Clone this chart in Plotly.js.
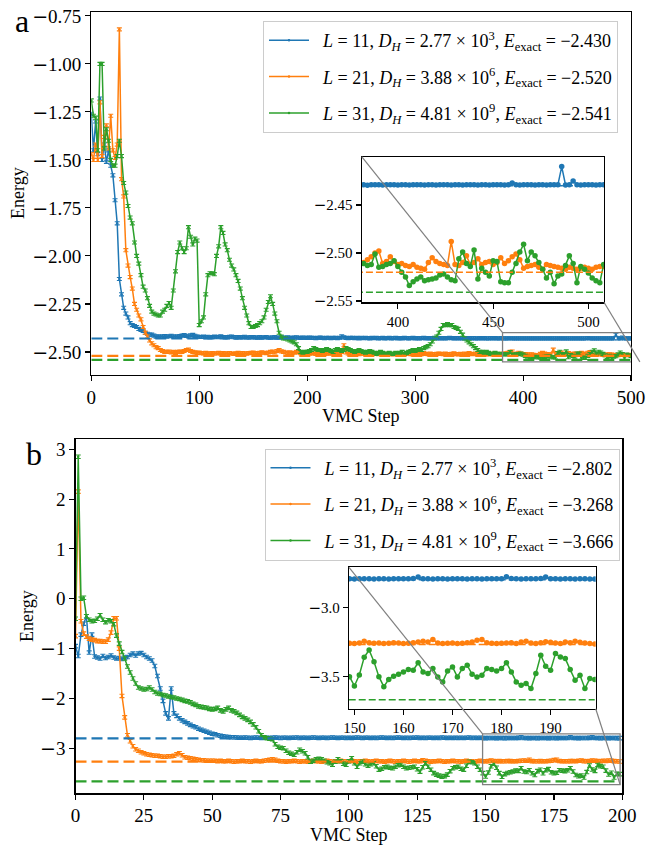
<!DOCTYPE html>
<html>
<head>
<meta charset="utf-8">
<script src="https://cdn.plot.ly/plotly-3.0.1.min.js"></script>
<style>html,body{margin:0;padding:0;background:#fff;}#plot{width:657px;height:846px;}</style>
</head>
<body>
<div id="plot"></div>
<script>
// ---------------- DATA ----------------
// Panel a: energies recorded every 2 VMC steps (0..508)
const aL11 = [-1.26,-1.45,-1.30,-1.47,-1.18,-1.50,-1.42,-1.51,-1.45,-1.53,-1.58,-1.71,-1.83,-2.12,-2.20,-2.27,-2.30,-2.32,-2.35,-2.36,-2.365,-2.37,-2.38,-2.385,-2.39,-2.40,-2.405,-2.41,-2.41,-2.415,-2.42,
-2.418,-2.421,-2.419,-2.417,-2.420,-2.418,-2.416,-2.419,-2.421,-2.418,
-2.417,-2.415,-2.412,-2.416,-2.419,-2.414,-2.411,-2.416,-2.420,-2.421,
-2.422,-2.420,-2.423,-2.421,-2.424,-2.422,-2.420,-2.423,-2.421,-2.419,
-2.422,-2.424,-2.423,-2.421,-2.420,-2.423,-2.425,-2.422,-2.424,-2.423,
-2.421,-2.424,-2.425,-2.423,-2.422,-2.424,-2.426,-2.423,-2.425,-2.424,
-2.422,-2.425,-2.426,-2.424,-2.423,-2.425,-2.426,-2.424,-2.425,-2.426,
-2.424,-2.426,-2.427,-2.425,-2.424,-2.426,-2.427,-2.425,-2.426,-2.427,
-2.425,-2.427,-2.426,-2.428,-2.426,-2.425,-2.427,-2.428,-2.426,-2.427,
-2.428,-2.426,-2.427,-2.428,-2.426,-2.419,-2.424,-2.427,-2.428,-2.427,
-2.426,-2.428,-2.427,-2.429,-2.427,-2.428,-2.426,-2.428,-2.429,-2.427,
-2.428,-2.427,-2.429,-2.428,-2.427,-2.429,-2.428,-2.427,-2.429,-2.428,
-2.427,-2.429,-2.428,-2.429,-2.427,-2.428,-2.429,-2.428,-2.427,-2.429,
-2.428,-2.429,-2.428,-2.427,-2.429,-2.428,-2.429,-2.428,-2.427,-2.429,
-2.428,-2.429,-2.428,-2.429,-2.428,-2.426,-2.428,-2.429,-2.428,-2.429,
-2.428,-2.429,-2.428,-2.429,-2.428,-2.429,-2.428,-2.429,-2.429,-2.428,
-2.429,-2.428,-2.429,-2.429,-2.428,-2.429,-2.428,-2.429,-2.429,-2.428,
-2.429,-2.4295,-2.429,-2.4288,-2.429,-2.4292,-2.429,-2.4289,-2.429,-2.4291,
-2.429,-2.429,-2.4292,-2.429,-2.4289,-2.429,-2.4291,-2.429,-2.429,-2.4292,
-2.429,-2.4289,-2.429,-2.4291,-2.429,-2.429,-2.4292,-2.429,-2.4289,-2.429,
-2.4291,-2.429,-2.429,-2.4292,-2.429,-2.4289,-2.429,-2.4291,-2.429,-2.4272,
-2.429,-2.4291,-2.429,-2.4289,-2.429,-2.4292,-2.429,-2.429,-2.4291,-2.429,
-2.4289,-2.429,-2.410,-2.4291,-2.429,-2.425,-2.429,-2.4292,-2.429,-2.4289,
-2.429,-2.4291,-2.429,-2.429];

const aL21 = [-1.47,-1.50,-1.42,-1.50,-1.20,-1.48,-1.38,-1.32,-1.44,-1.27,-1.45,-1.49,-1.42,-0.82,-1.60,-1.69,-1.97,-2.05,-2.11,-2.17,-2.25,-2.28,-2.31,-2.33,-2.37,-2.40,-2.42,-2.44,-2.455,-2.465,-2.475,
-2.48,-2.49,-2.495,-2.50,-2.50,-2.498,-2.502,-2.50,-2.505,-2.50,
-2.498,-2.50,-2.495,-2.49,-2.488,-2.495,-2.50,-2.502,-2.505,-2.503,
-2.506,-2.508,-2.505,-2.507,-2.509,-2.506,-2.508,-2.507,-2.505,-2.508,
-2.506,-2.509,-2.507,-2.506,-2.508,-2.510,-2.507,-2.505,-2.508,-2.506,
-2.507,-2.509,-2.506,-2.505,-2.503,-2.506,-2.508,-2.505,-2.502,-2.504,
-2.506,-2.503,-2.500,-2.498,-2.502,-2.495,-2.490,-2.497,-2.500,-2.503,
-2.505,-2.502,-2.506,-2.504,-2.500,-2.503,-2.506,-2.508,-2.505,-2.507,
-2.509,-2.506,-2.508,-2.510,-2.507,-2.505,-2.508,-2.510,-2.507,-2.509,
-2.506,-2.508,-2.510,-2.507,-2.505,-2.500,-2.465,-2.503,-2.508,-2.510,
-2.509,-2.507,-2.510,-2.512,-2.509,-2.507,-2.510,-2.512,-2.509,-2.511,
-2.508,-2.510,-2.512,-2.509,-2.511,-2.513,-2.510,-2.508,-2.511,-2.513,
-2.510,-2.512,-2.509,-2.511,-2.513,-2.510,-2.508,-2.511,-2.513,-2.510,
-2.512,-2.509,-2.511,-2.506,-2.510,-2.512,-2.509,-2.511,-2.513,-2.510,
-2.508,-2.510,-2.512,-2.509,-2.511,-2.513,-2.510,-2.507,-2.511,-2.513,
-2.510,-2.512,-2.509,-2.511,-2.506,-2.510,-2.512,-2.509,-2.511,-2.513,
-2.510,-2.508,-2.511,-2.513,-2.510,-2.512,-2.509,-2.511,-2.513,-2.510,
-2.510,-2.507,-2.504,-2.500,-2.498,-2.511,-2.509,-2.504,-2.509,-2.512,
-2.511,-2.513,-2.514,-2.512,-2.515,-2.516,-2.517,-2.510,-2.505,-2.509,
-2.511,-2.512,-2.513,-2.488,-2.512,-2.513,-2.510,-2.503,-2.512,-2.510,
-2.506,-2.512,-2.510,-2.509,-2.512,-2.510,-2.505,-2.511,-2.508,-2.504,
-2.501,-2.507,-2.516,-2.514,-2.513,-2.512,-2.515,-2.517,-2.512,-2.513,
-2.514,-2.515,-2.516,-2.517,-2.515,-2.516,-2.517,-2.516,-2.515,-2.516,
-2.517,-2.515,-2.514,-2.514];

const aL31 = [-1.19,-1.27,-1.28,-1.45,-1.00,-1.00,-1.44,-1.34,-1.40,-1.50,-1.53,-1.53,-1.48,-1.40,-1.48,-1.62,-1.67,-1.74,-1.80,-1.83,-1.93,-2.00,-2.04,-2.10,-2.16,-2.18,-2.22,-2.26,-2.29,-2.30,-2.305,
-2.31,-2.31,-2.29,-2.28,-2.26,-2.245,-2.27,-2.18,-2.08,-1.98,
-1.93,-1.96,-1.98,-1.96,-1.85,-1.90,-1.94,-1.91,-1.92,-2.36,
-2.34,-2.32,-2.20,-2.10,-2.09,-2.09,-2.095,-2.00,-1.95,-1.85,
-1.88,-1.94,-1.97,-2.02,-2.05,-2.07,-2.10,-2.13,-2.17,-2.22,
-2.27,-2.31,-2.35,-2.37,-2.37,-2.365,-2.36,-2.35,-2.34,-2.32,
-2.28,-2.24,-2.21,-2.25,-2.30,-2.34,-2.40,-2.42,-2.43,-2.43,
-2.435,-2.44,-2.445,-2.45,-2.46,-2.48,-2.50,-2.505,-2.50,-2.50,
-2.495,-2.49,-2.48,-2.485,-2.49,-2.49,-2.495,-2.49,-2.485,-2.49,
-2.495,-2.50,-2.49,-2.485,-2.49,-2.495,-2.49,-2.48,-2.485,-2.49,
-2.495,-2.50,-2.495,-2.49,-2.495,-2.50,-2.505,-2.50,-2.495,-2.50,
-2.505,-2.51,-2.505,-2.50,-2.505,-2.51,-2.51,-2.505,-2.51,-2.51,
-2.505,-2.51,-2.505,-2.50,-2.51,-2.505,-2.50,-2.495,-2.49,-2.495,
-2.49,-2.485,-2.49,-2.48,-2.475,-2.47,-2.46,-2.445,-2.43,-2.42,
-2.40,-2.38,-2.36,-2.36,-2.355,-2.36,-2.36,-2.37,-2.375,-2.38,
-2.395,-2.41,-2.43,-2.44,-2.45,-2.46,-2.47,-2.48,-2.49,-2.50,
-2.50,-2.505,-2.50,-2.505,-2.51,-2.51,-2.505,-2.51,-2.51,-2.512,
-2.511,-2.513,-2.512,-2.501,-2.515,-2.514,-2.512,-2.511,-2.508,-2.514,
-2.520,-2.525,-2.534,-2.530,-2.527,-2.525,-2.529,-2.528,-2.527,-2.526,
-2.523,-2.522,-2.525,-2.528,-2.529,-2.506,-2.499,-2.511,-2.514,-2.497,
-2.527,-2.516,-2.520,-2.524,-2.508,-2.509,-2.530,-2.531,-2.531,-2.520,
-2.511,-2.499,-2.491,-2.508,-2.499,-2.503,-2.510,-2.517,-2.526,-2.520,
-2.532,-2.524,-2.522,-2.513,-2.503,-2.511,-2.531,-2.514,-2.517,-2.521,
-2.526,-2.529,-2.531,-2.512];

const aExact = [-2.430, -2.520, -2.541];
const aLabels = ["11", "21", "31"];

// Panel b: energies recorded every VMC step (0..199)
const bL11 = [-0.95,-1.15,-0.72,-0.50,-0.35,-1.08,-0.72,-1.16,-1.18,-1.20,
-1.15,-1.19,-1.17,-1.14,-1.18,-1.20,-1.19,-1.21,-1.18,-1.17,
-1.13,-1.10,-1.14,-1.10,-1.09,-1.13,-1.17,-1.20,-1.24,-1.35,
-1.55,-1.80,-2.05,-2.30,-2.40,-1.80,-2.30,-2.35,-2.40,-2.44,
-2.47,-2.50,-2.53,-2.56,-2.58,-2.61,-2.63,-2.65,-2.67,-2.69,
-2.71,-2.72,-2.74,-2.75,-2.76,-2.77,-2.775,-2.78,-2.78,-2.785,
-2.79,-2.79,-2.785,-2.79,-2.795,-2.79,-2.785,-2.79,-2.795,-2.79,
-2.79,-2.795,-2.79,-2.785,-2.79,-2.795,-2.79,-2.79,-2.795,-2.79,
-2.79,-2.785,-2.795,-2.79,-2.79,-2.795,-2.79,-2.785,-2.79,-2.795,
-2.79,-2.79,-2.795,-2.79,-2.785,-2.79,-2.795,-2.79,-2.79,-2.795,
-2.79,-2.795,-2.79,-2.785,-2.79,-2.795,-2.79,-2.79,-2.795,-2.79,
-2.795,-2.79,-2.785,-2.79,-2.795,-2.79,-2.795,-2.79,-2.785,-2.79,
-2.795,-2.79,-2.795,-2.79,-2.79,-2.785,-2.795,-2.79,-2.795,-2.79,
-2.79,-2.795,-2.79,-2.795,-2.785,-2.79,-2.795,-2.79,-2.795,-2.79,
-2.795,-2.79,-2.795,-2.79,-2.785,-2.795,-2.79,-2.795,-2.79,-2.795,
-2.796,-2.795,-2.794,-2.795,-2.796,-2.794,-2.795,-2.796,-2.795,-2.794,
-2.795,-2.794,-2.792,-2.782,-2.794,-2.795,-2.796,-2.794,-2.795,-2.796,
-2.795,-2.794,-2.795,-2.796,-2.794,-2.795,-2.796,-2.795,-2.794,-2.795,
-2.794,-2.781,-2.793,-2.795,-2.796,-2.794,-2.795,-2.794,-2.792,-2.782,
-2.794,-2.795,-2.796,-2.794,-2.795,-2.796,-2.795,-2.794,-2.796,-2.797];

const bL21 = [-0.75,2.15,-0.45,-0.70,-0.76,-0.80,-0.82,-0.83,-0.85,-0.85,
-0.86,-0.86,-0.82,-0.68,-0.39,-0.39,-1.00,-1.95,-2.38,-2.74,
-2.86,-2.96,-3.02,-3.05,-3.08,-3.10,-3.12,-3.13,-3.14,-3.15,
-3.15,-3.16,-3.17,-3.17,-3.16,-3.16,-3.15,-3.12,-3.10,-3.14,
-3.18,-3.19,-3.20,-3.21,-3.22,-3.23,-3.24,-3.24,-3.25,-3.25,
-3.25,-3.25,-3.26,-3.25,-3.26,-3.26,-3.25,-3.26,-3.27,-3.26,
-3.26,-3.25,-3.26,-3.26,-3.27,-3.26,-3.25,-3.26,-3.26,-3.25,
-3.24,-3.23,-3.22,-3.23,-3.25,-3.26,-3.26,-3.27,-3.26,-3.26,
-3.25,-3.26,-3.27,-3.26,-3.26,-3.27,-3.26,-3.25,-3.26,-3.26,
-3.27,-3.26,-3.25,-3.26,-3.27,-3.26,-3.26,-3.25,-3.26,-3.27,
-3.26,-3.25,-3.26,-3.27,-3.26,-3.26,-3.25,-3.26,-3.27,-3.26,
-3.25,-3.26,-3.26,-3.27,-3.26,-3.25,-3.26,-3.27,-3.26,-3.26,
-3.25,-3.26,-3.27,-3.26,-3.25,-3.26,-3.26,-3.24,-3.25,-3.26,
-3.27,-3.26,-3.26,-3.25,-3.26,-3.27,-3.26,-3.26,-3.25,-3.26,
-3.26,-3.27,-3.26,-3.25,-3.26,-3.26,-3.27,-3.26,-3.25,-3.26,
-3.262,-3.258,-3.245,-3.255,-3.26,-3.258,-3.262,-3.26,-3.255,-3.258,
-3.262,-3.26,-3.255,-3.25,-3.245,-3.25,-3.232,-3.258,-3.262,-3.26,
-3.258,-3.262,-3.26,-3.255,-3.25,-3.238,-3.232,-3.255,-3.26,-3.262,
-3.26,-3.258,-3.255,-3.262,-3.25,-3.245,-3.258,-3.262,-3.255,-3.248,
-3.252,-3.258,-3.262,-3.25,-3.255,-3.245,-3.252,-3.258,-3.262,-3.265];

const bL31 = [-0.40,2.85,0.00,0.02,-0.35,-0.42,-0.45,-0.44,-0.40,-0.33,
-0.42,-0.47,-0.43,-0.45,-0.51,-0.74,-0.90,-1.07,-1.20,-1.36,
-1.48,-1.60,-1.70,-1.78,-1.80,-1.82,-1.81,-1.78,-1.82,-1.87,
-1.90,-1.91,-1.93,-1.94,-1.96,-1.97,-1.98,-2.00,-2.01,-2.03,
-2.05,-2.06,-2.08,-2.11,-2.13,-2.16,-2.17,-2.18,-2.19,-2.21,
-2.22,-2.21,-2.19,-2.24,-2.26,-2.22,-2.19,-2.24,-2.26,-2.29,
-2.33,-2.37,-2.40,-2.43,-2.47,-2.52,-2.58,-2.66,-2.74,-2.78,
-2.80,-2.81,-2.82,-2.92,-2.97,-2.99,-3.00,-3.05,-3.09,-3.11,
-3.13,-3.08,-3.03,-3.06,-3.10,-3.18,-3.27,-3.25,-3.22,-3.21,
-3.22,-3.25,-3.28,-3.30,-3.33,-3.27,-3.22,-3.26,-3.31,-3.33,
-3.26,-3.20,-3.30,-3.37,-3.30,-3.27,-3.32,-3.35,-3.32,-3.30,
-3.36,-3.43,-3.41,-3.38,-3.37,-3.39,-3.40,-3.37,-3.34,-3.33,
-3.37,-3.40,-3.39,-3.38,-3.37,-3.42,-3.47,-3.38,-3.30,-3.37,
-3.43,-3.50,-3.53,-3.55,-3.57,-3.56,-3.53,-3.46,-3.40,-3.38,
-3.37,-3.41,-3.43,-3.35,-3.27,-3.28,-3.30,-3.37,-3.43,-3.50,
-3.567,-3.488,-3.36,-3.308,-3.392,-3.50,-3.572,-3.52,-3.497,-3.483,
-3.466,-3.449,-3.454,-3.40,-3.466,-3.478,-3.442,-3.502,-3.538,-3.459,
-3.43,-3.502,-3.442,-3.418,-3.483,-3.502,-3.49,-3.442,-3.449,-3.459,
-3.442,-3.40,-3.466,-3.538,-3.562,-3.55,-3.586,-3.478,-3.346,-3.425,
-3.454,-3.334,-3.358,-3.37,-3.449,-3.526,-3.49,-3.586,-3.514,-3.52];

const bExact = [-2.802, -3.268, -3.666];
const bLabels = ["11", "21", "31"];
const DH = ["2.77", "3.88", "4.81"];
const DHexp = ["3", "6", "9"];

// tick values
const aXTicks = [0, 100, 200, 300, 400, 500];
const aYTicks = [-2.5, -2.25, -2.0, -1.75, -1.5, -1.25, -1.0, -0.75];
const aiXTicks = [400, 450, 500];
const aiYTicks = [-2.55, -2.50, -2.45];
const bXTicks = [0, 25, 50, 75, 100, 125, 150, 175, 200];
const bYTicks = [-3, -2, -1, 0, 1, 2, 3];
const biXTicks = [150, 160, 170, 180, 190];
const biYTicks = [-3.5, -3.0];

// ---------------- LAYOUT / STYLE ----------------
const W = 657, H = 846;
const FONT = 'Liberation Serif';
const COLORS = ['#1f77b4', '#ff7f0e', '#2ca02c'];
const fx = p => p / W, fy = p => 1 - p / H;

const stepsA = aL11.map((_, i) => 2 * i);
const stepsB = bL11.map((_, i) => i);

// axis geometry (pixels of the target)
const gA = {xd: [fx(91.3), fx(631)], yd: [fy(375), fy(11.7)], xr: [0, 500], yr: [-2.62, -0.728]};
const gAi = {xd: [fx(361.7), fx(604)], yd: [fy(302.3), fy(156.7)], xr: [381, 508.2], yr: [-2.5514, -2.3997]};
const gB = {xd: [fx(75.5), fx(622.3)], yd: [fy(793.3), fy(439.3)], xr: [0, 200], yr: [-3.904, 3.2]};
const gBi = {xd: [fx(349), fx(595.7)], yd: [fy(708.7), fy(567.3)], xr: [148.9, 199.2], yr: [-3.731, -2.712]};

// tick label text: wide (DejaVu) minus sign as in the original
const MINUS = '<span style="font-family:DejaVu Sans">\u2212</span>';
const fmt = (v, d) => (v < 0 ? MINUS : '') + Math.abs(v).toFixed(d);

function lab(i, dataLabels, exact) {
  const e = exact[i].toFixed(3).replace('-', '\u2212');
  return '\u00a0\u00a0<i>L</i> = ' + dataLabels[i] + ', <i>D<sub>H</sub></i> = ' + DH[i] + ' \u00d7 10<sup>' + DHexp[i] + '</sup>, <i>E</i><sub>exact</sub> = ' + e;
}

const traces = [];
function addPanel(series, steps, exact, labels, xa, ya, xai, yai, legendName, errVal) {
  series.forEach((s, i) => {
    traces.push({
      x: steps, y: s, xaxis: xa, yaxis: ya, type: 'scatter', mode: 'lines+markers',
      name: lab(i, labels, exact), legend: legendName, legendgroup: legendName + i,
      line: {color: COLORS[i], width: 1.5}, marker: {color: COLORS[i], size: 2.5},
      error_y: {type: 'constant', value: errVal, color: COLORS[i], thickness: 1.1, width: 2.5, visible: true},
      hoverinfo: 'skip'
    });
  });
  exact.forEach((e, i) => {
    traces.push({
      x: [steps[0], steps[steps.length - 1]], y: [e, e], xaxis: xa, yaxis: ya, type: 'scatter', mode: 'lines',
      showlegend: false, line: {color: COLORS[i], width: 2.2, dash: '11px,5px'}, hoverinfo: 'skip'
    });
  });
  series.forEach((s, i) => {
    traces.push({
      x: steps, y: s, xaxis: xai, yaxis: yai, type: 'scatter', mode: 'lines+markers', showlegend: false,
      line: {color: COLORS[i], width: 1.5}, marker: {color: COLORS[i], size: 5.5}, hoverinfo: 'skip'
    });
  });
  exact.forEach((e, i) => {
    traces.push({
      x: [steps[0], steps[steps.length - 1]], y: [e, e], xaxis: xai, yaxis: yai, type: 'scatter', mode: 'lines',
      showlegend: false, line: {color: COLORS[i], width: 1.5, dash: '7px,3px'}, hoverinfo: 'skip'
    });
  });
}
addPanel([aL11, aL21, aL31], stepsA, aExact, aLabels, 'x', 'y', 'x2', 'y2', 'legend', 0.008);
addPanel([bL11, bL21, bL31], stepsB, bExact, bLabels, 'x3', 'y3', 'x4', 'y4', 'legend2', 0.035);

function ax(g, isX, anchor, vals, dec, fs) {
  return {
    domain: isX ? g.xd : g.yd, range: isX ? g.xr : g.yr, anchor: anchor,
    showline: true, mirror: true, linecolor: 'black', linewidth: 1.2,
    ticks: 'outside', ticklen: 5, tickwidth: 1.1, tickcolor: 'black',
    showgrid: false, zeroline: false, fixedrange: true,
    tickmode: 'array', tickvals: vals, ticktext: vals.map(v => fmt(v, dec)),
    tickfont: {family: FONT, size: fs, color: 'black'}
  };
}

const legendStyle = {xanchor: 'left', yanchor: 'top', bgcolor: 'rgba(255,255,255,0.85)',
  bordercolor: '#cccccc', borderwidth: 1, font: {family: FONT, size: 18, color: 'black'},
  itemwidth: 40, tracegroupgap: 10};

const ann = (text, x, y, size, angle) => ({text: text, x: fx(x), y: fy(y), xref: 'paper', yref: 'paper',
  xanchor: 'center', yanchor: 'middle', showarrow: false, textangle: angle || 0, font: {family: FONT, size: size, color: 'black'}});

const layout = {
  width: W, height: H, margin: {l: 0, r: 0, t: 0, b: 0},
  paper_bgcolor: 'white', plot_bgcolor: 'white', showlegend: true,
  font: {family: FONT, color: 'black'},
  xaxis: ax(gA, true, 'y', aXTicks, 0, 19),
  yaxis: ax(gA, false, 'x', aYTicks, 2, 19),
  xaxis2: ax(gAi, true, 'y2', aiXTicks, 0, 15),
  yaxis2: ax(gAi, false, 'x2', aiYTicks, 2, 15),
  xaxis3: ax(gB, true, 'y3', bXTicks, 0, 19),
  yaxis3: ax(gB, false, 'x3', bYTicks, 0, 19),
  xaxis4: ax(gBi, true, 'y4', biXTicks, 0, 15),
  yaxis4: ax(gBi, false, 'x4', biYTicks, 1, 15),
  legend: Object.assign({x: fx(263), y: fy(21)}, legendStyle),
  legend2: Object.assign({x: fx(264.5), y: fy(448.5)}, legendStyle),
  annotations: [
    ann('a', 22, 21, 32), ann('b', 34, 454, 32),
    ann('Energy', 18, 193, 18, -90), ann('Energy', 27, 616, 18, -90),
    ann('VMC Step', 361, 416, 18), ann('VMC Step', 349, 835, 18)
  ],
  shapes: []
};

// zoom rectangles + connector lines (mark_inset style)
function mapP(g, xv, yv) {
  return [g.xd[0] + (xv - g.xr[0]) / (g.xr[1] - g.xr[0]) * (g.xd[1] - g.xd[0]),
          g.yd[0] + (yv - g.yr[0]) / (g.yr[1] - g.yr[0]) * (g.yd[1] - g.yd[0])];
}
function addInsetMarks(g, gi, xref, yref) {
  layout.shapes.push({type: 'rect', xref: xref, yref: yref, x0: gi.xr[0], x1: gi.xr[1], y0: gi.yr[0], y1: gi.yr[1],
    line: {color: '#808080', width: 1.3}, layer: 'above'});
  const tl = mapP(g, gi.xr[0], gi.yr[1]);
  const br = mapP(g, gi.xr[1], gi.yr[0]);
  layout.shapes.push({type: 'line', xref: 'paper', yref: 'paper', x0: gi.xd[0], y0: gi.yd[1], x1: tl[0], y1: tl[1],
    line: {color: '#808080', width: 1.2}, layer: 'above'});
  layout.shapes.push({type: 'line', xref: 'paper', yref: 'paper', x0: gi.xd[1], y0: gi.yd[0], x1: br[0], y1: br[1],
    line: {color: '#808080', width: 1.2}, layer: 'above'});
}
addInsetMarks(gA, gAi, 'x', 'y');
addInsetMarks(gB, gBi, 'x3', 'y3');

Plotly.newPlot('plot', traces, layout, {staticPlot: true, displayModeBar: false});
</script>
</body>
</html>
